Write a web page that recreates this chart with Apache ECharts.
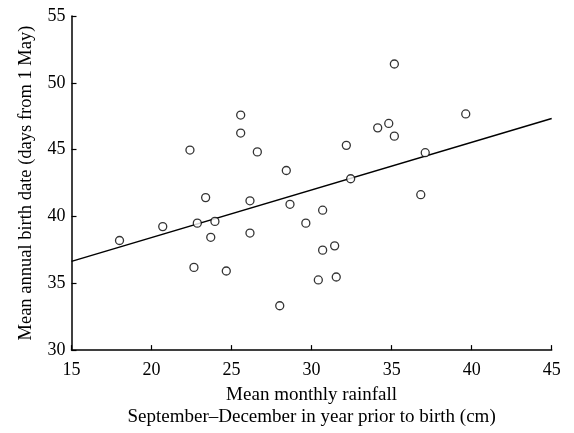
<!DOCTYPE html>
<html>
<head>
<meta charset="utf-8">
<script src="https://cdn.jsdelivr.net/npm/echarts@6/dist/echarts.min.js"></script>
<style>html,body{margin:0;padding:0;background:#fff}#c{width:574px;height:433px}</style>
</head>
<body>
<div id="c"></div>
<script>
var rainfall = [18.0, 20.7, 22.4, 22.65, 22.86, 23.38, 23.7, 23.96, 24.67, 25.57, 25.57, 26.15, 26.15, 26.61,
  28.01, 28.42, 28.65, 29.64, 30.42, 30.69, 30.69, 31.44, 31.54, 32.17, 32.44, 34.13, 34.82, 35.17, 35.17,
  36.82, 37.10, 39.63];
var birthDate = [38.2, 39.24, 44.97, 36.19, 39.5, 41.41, 38.44, 39.63, 35.92, 47.59, 46.24, 41.17, 38.76, 44.83,
  33.32, 43.44, 40.91, 39.5, 35.25, 40.47, 37.48, 37.8, 35.47, 45.32, 42.82, 46.63, 46.96, 51.41, 46.01,
  41.63, 44.77, 47.67];
var fitX = [15, 45];
var fitY = [36.64, 47.33];
var xTicks = [15, 20, 25, 30, 35, 40, 45];
var yTicks = [30, 35, 40, 45, 50, 55];

var font = 'Liberation Serif';
var chart = echarts.init(document.getElementById('c'));
var pts = rainfall.map(function (x, i) { return [x, birthDate[i]]; });
var fit = fitX.map(function (x, i) { return [x, fitY[i]]; });
chart.setOption({
  animation: false,
  grid: { left: 71.5, right: 22.3, top: 16, bottom: 80.3 },
  xAxis: {
    type: 'value', min: xTicks[0], max: xTicks[xTicks.length - 1], interval: 5,
    name: 'Mean monthly rainfall\nSeptember\u2013December in year prior to birth (cm)',
    nameLocation: 'middle', nameGap: 33,
    nameTextStyle: { fontFamily: font, fontSize: 19, color: '#000', lineHeight: 22 },
    axisLine: { lineStyle: { color: '#000', width: 1.5 } },
    axisTick: { inside: true, length: 5, lineStyle: { color: '#000', width: 1.2 } },
    axisLabel: { fontFamily: font, fontSize: 18, color: '#000', margin: 11 },
    splitLine: { show: false }
  },
  yAxis: {
    type: 'value', min: yTicks[0], max: yTicks[yTicks.length - 1], interval: 5,
    name: 'Mean annual birth date (days from 1 May)',
    nameLocation: 'middle', nameGap: 36,
    nameTextStyle: { fontFamily: font, fontSize: 18.5, color: '#000' },
    axisLine: { lineStyle: { color: '#000', width: 1.5 } },
    axisTick: { inside: true, length: 5, lineStyle: { color: '#000', width: 1.2 } },
    axisLabel: { fontFamily: font, fontSize: 18, color: '#000', margin: 6 },
    splitLine: { show: false }
  },
  series: [
    {
      type: 'line', data: fit, symbol: 'none',
      lineStyle: { color: '#000', width: 1.5 }, z: 1
    },
    {
      type: 'scatter', data: pts, symbol: 'circle', symbolSize: 8,
      itemStyle: { color: '#fff', borderColor: '#000', borderWidth: 1.3 }, z: 2
    }
  ]
});
</script>
</body>
</html>
